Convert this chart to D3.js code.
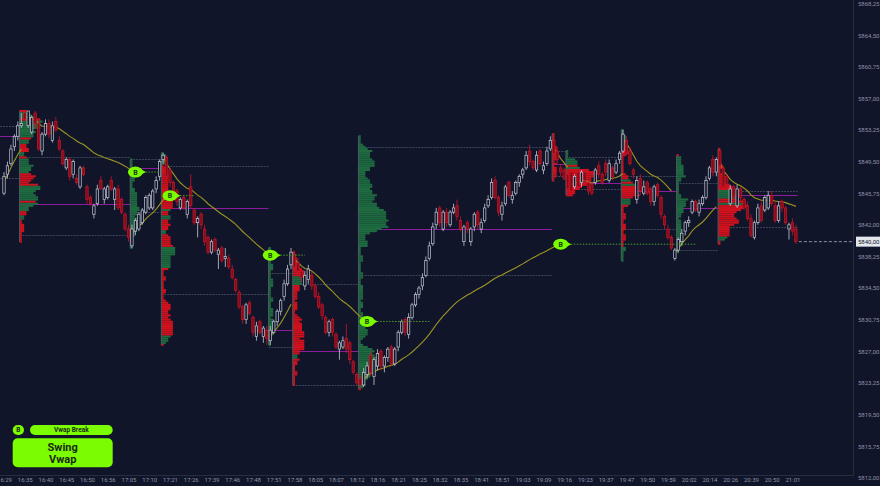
<!DOCTYPE html>
<html>
<head>
<meta charset="utf-8">
<script src="https://cdn.jsdelivr.net/npm/d3@7"></script>
<style>
    html, body { margin: 0; padding: 0; background: #10152a; }
    svg { display: block; }
    text { font-family: Roboto, "DejaVu Sans", sans-serif; }
</style>
</head>
<body>
<script>
const timeLabels = ["16:29", "16:35", "16:40", "16:45", "16:50", "16:56", "17:05", "17:10", "17:21", "17:26",
    "17:39", "17:46", "17:48", "17:51", "17:58", "18:05", "18:07", "18:12", "18:16", "18:21",
    "18:25", "18:32", "18:35", "18:41", "18:51", "19:03", "19:09", "19:16", "19:23", "19:37",
    "19:47", "19:50", "19:59", "20:02", "20:14", "20:26", "20:39", "20:50", "21:01"]

const opens = [
    5845.75, 5848.00, 5849.25, 5851.25, 5852.50, 5853.75, 5855.25, 5853.75, 5853.00, 5855.25,
    5854.00, 5850.75, 5852.75, 5854.00, 5852.00, 5854.25, 5852.00, 5850.75, 5848.75, 5849.75,
    5848.00, 5847.50, 5846.50, 5848.75, 5846.50, 5845.25, 5843.25, 5844.50, 5847.25, 5845.00,
    5845.25, 5847.25, 5845.00, 5846.25, 5845.00, 5843.25, 5841.50, 5839.50, 5841.25, 5841.50,
    5842.25, 5843.50, 5844.00, 5844.00, 5846.25, 5847.75, 5849.75, 5850.00, 5848.50, 5847.00,
    5846.00, 5844.00, 5845.25, 5843.25, 5846.50, 5843.75, 5842.25, 5843.25, 5841.50, 5840.50,
    5838.75, 5840.25, 5838.50, 5839.25, 5838.00, 5838.00, 5836.75, 5835.50, 5834.00, 5832.25,
    5830.75, 5832.75, 5831.00, 5828.75, 5830.50, 5828.75, 5829.50, 5828.25, 5829.25, 5830.50,
    5831.75, 5833.50, 5835.00, 5837.25, 5838.50, 5837.50, 5836.50, 5834.75, 5835.50, 5836.00,
    5834.75, 5833.50, 5832.50, 5831.00, 5829.25, 5830.75, 5829.00, 5827.25, 5827.50, 5828.50,
    5828.00, 5825.75, 5824.25, 5823.75, 5823.00, 5824.25, 5826.50, 5824.00, 5825.25, 5827.00,
    5825.25, 5826.25, 5827.50, 5825.50, 5827.50, 5829.25, 5830.75, 5829.00, 5831.00, 5832.50,
    5833.75, 5834.75, 5836.00, 5838.00, 5839.75, 5842.00, 5844.00, 5841.50, 5843.50, 5842.00,
    5843.50, 5844.25, 5842.50, 5840.00, 5842.25, 5840.00, 5841.75, 5843.50, 5841.50, 5842.50,
    5844.25, 5845.25, 5847.25, 5845.25, 5843.25, 5844.50, 5847.00, 5845.00, 5845.75, 5847.00,
    5848.00, 5848.75, 5850.75, 5849.50, 5848.50, 5850.75, 5848.50, 5849.25, 5851.00, 5852.00,
    5850.75, 5848.75, 5848.50, 5848.00, 5848.25, 5846.50, 5848.25, 5847.00, 5848.25, 5847.00,
    5846.75, 5847.00, 5849.00, 5848.00, 5849.25, 5847.25, 5848.75, 5848.25, 5849.75, 5850.75,
    5852.00, 5850.75, 5848.50, 5845.00, 5847.50, 5845.75, 5847.00, 5846.25, 5844.75, 5846.75,
    5845.25, 5843.00, 5841.50, 5840.50, 5838.00, 5839.00, 5840.00, 5841.25, 5842.25, 5843.50,
    5844.75, 5843.50, 5844.50, 5845.25, 5847.50, 5849.75, 5848.25, 5850.75, 5848.75, 5847.75,
    5844.50, 5846.50, 5844.25, 5846.25, 5845.00, 5844.25, 5842.75, 5840.50, 5842.25, 5844.25,
    5843.75, 5844.00, 5845.50, 5844.25, 5842.50, 5844.75, 5844.00, 5841.50, 5842.25, 5841.50]

const highs = [
    5848.25, 5849.50, 5851.50, 5852.75, 5854.25, 5855.25, 5855.50, 5855.50, 5855.00, 5855.50,
    5854.50, 5853.00, 5854.50, 5854.50, 5854.25, 5854.75, 5852.50, 5851.00, 5850.00, 5850.00,
    5849.75, 5848.00, 5849.00, 5849.00, 5846.75, 5845.50, 5844.50, 5846.75, 5847.75, 5846.50,
    5846.75, 5847.75, 5846.50, 5846.75, 5845.25, 5843.50, 5842.00, 5842.00, 5842.75, 5843.50,
    5844.00, 5845.50, 5845.75, 5846.25, 5847.75, 5849.75, 5850.50, 5850.25, 5848.75, 5847.25,
    5846.25, 5845.25, 5845.50, 5845.00, 5848.00, 5844.00, 5843.00, 5843.50, 5842.00, 5840.75,
    5840.25, 5840.50, 5839.25, 5839.50, 5839.25, 5838.50, 5837.25, 5835.75, 5834.25, 5832.50,
    5832.75, 5833.00, 5831.25, 5830.50, 5830.75, 5830.00, 5830.00, 5830.00, 5830.75, 5832.00,
    5833.25, 5835.50, 5837.25, 5839.25, 5838.75, 5838.00, 5836.75, 5836.50, 5837.25, 5836.50,
    5835.00, 5834.00, 5832.75, 5831.25, 5830.75, 5831.00, 5829.25, 5828.25, 5828.75, 5830.25,
    5828.25, 5826.00, 5824.50, 5824.25, 5825.00, 5825.75, 5827.00, 5826.25, 5827.25, 5827.25,
    5826.50, 5827.50, 5827.75, 5827.50, 5829.50, 5830.75, 5831.00, 5831.50, 5832.75, 5834.00,
    5834.75, 5836.25, 5838.25, 5840.00, 5842.25, 5844.00, 5844.25, 5843.75, 5844.00, 5843.75,
    5844.50, 5845.00, 5843.00, 5842.00, 5842.50, 5841.75, 5843.50, 5843.75, 5842.75, 5844.50,
    5845.50, 5847.50, 5847.75, 5845.50, 5844.75, 5846.75, 5847.25, 5846.00, 5847.25, 5848.00,
    5848.75, 5850.75, 5851.50, 5849.75, 5850.75, 5851.00, 5849.50, 5851.25, 5852.50, 5852.75,
    5851.25, 5849.25, 5848.75, 5848.25, 5848.50, 5848.00, 5848.50, 5848.50, 5848.50, 5847.25,
    5847.00, 5848.75, 5849.50, 5848.25, 5849.75, 5849.75, 5849.00, 5849.75, 5850.75, 5853.25,
    5852.50, 5851.25, 5848.75, 5847.75, 5848.00, 5847.25, 5847.25, 5846.50, 5846.75, 5847.00,
    5845.50, 5843.25, 5842.00, 5840.75, 5839.25, 5840.50, 5841.50, 5842.50, 5843.00, 5845.00,
    5845.00, 5845.00, 5845.50, 5847.75, 5849.00, 5850.25, 5850.00, 5851.00, 5849.00, 5848.00,
    5846.75, 5846.75, 5846.75, 5846.50, 5845.25, 5844.75, 5843.25, 5842.50, 5844.50, 5844.75,
    5845.50, 5846.00, 5846.00, 5844.75, 5844.75, 5845.00, 5844.25, 5842.25, 5842.75, 5842.00]

const lows = [
    5845.50, 5847.50, 5849.00, 5850.75, 5852.00, 5853.50, 5854.25, 5853.50, 5852.75, 5853.50,
    5850.75, 5850.25, 5852.50, 5852.25, 5851.75, 5853.00, 5850.75, 5849.00, 5848.50, 5847.25,
    5847.50, 5846.75, 5846.25, 5847.75, 5844.50, 5844.25, 5842.75, 5844.25, 5846.25, 5844.50,
    5845.00, 5846.00, 5843.75, 5843.75, 5843.25, 5841.25, 5840.00, 5839.25, 5840.75, 5841.25,
    5842.00, 5843.25, 5843.75, 5843.75, 5845.75, 5847.25, 5849.25, 5847.50, 5846.50, 5845.50,
    5844.25, 5843.75, 5843.75, 5842.75, 5844.00, 5842.00, 5840.50, 5841.50, 5839.50, 5838.50,
    5838.50, 5838.75, 5836.75, 5837.50, 5837.00, 5836.75, 5835.50, 5834.00, 5832.00, 5830.25,
    5830.25, 5831.25, 5828.75, 5828.25, 5829.00, 5828.00, 5827.75, 5827.75, 5829.00, 5830.00,
    5831.25, 5833.00, 5834.75, 5836.75, 5836.75, 5836.00, 5835.25, 5834.25, 5835.00, 5834.25,
    5833.25, 5832.00, 5830.75, 5829.00, 5828.75, 5828.75, 5827.25, 5826.00, 5827.25, 5826.75,
    5825.50, 5824.25, 5823.00, 5822.50, 5822.75, 5823.75, 5824.00, 5823.00, 5824.75, 5824.75,
    5824.50, 5825.75, 5825.25, 5825.25, 5827.00, 5829.00, 5828.75, 5828.50, 5830.75, 5832.25,
    5833.25, 5834.25, 5835.75, 5837.75, 5839.50, 5841.50, 5841.75, 5841.25, 5841.75, 5841.75,
    5843.25, 5842.50, 5841.25, 5839.50, 5841.00, 5839.50, 5841.25, 5841.50, 5841.00, 5842.25,
    5844.00, 5845.00, 5845.00, 5843.00, 5842.50, 5844.25, 5845.25, 5844.50, 5845.50, 5846.50,
    5847.50, 5848.50, 5849.00, 5848.50, 5848.25, 5849.00, 5848.00, 5849.00, 5850.75, 5849.75,
    5849.25, 5847.75, 5847.25, 5845.75, 5845.50, 5846.25, 5846.25, 5846.50, 5847.00, 5845.50,
    5845.50, 5846.75, 5847.50, 5846.75, 5847.75, 5847.00, 5847.25, 5848.00, 5849.25, 5850.50,
    5850.25, 5849.00, 5847.50, 5844.50, 5845.50, 5845.50, 5845.50, 5844.25, 5844.25, 5845.25,
    5842.75, 5841.50, 5840.25, 5839.00, 5837.75, 5838.75, 5839.50, 5840.75, 5841.75, 5843.25,
    5843.50, 5843.00, 5844.25, 5845.00, 5847.25, 5847.75, 5847.75, 5848.75, 5846.25, 5846.25,
    5844.25, 5845.00, 5844.00, 5844.75, 5843.75, 5842.50, 5840.50, 5840.25, 5842.00, 5842.25,
    5843.50, 5843.75, 5844.25, 5842.25, 5842.25, 5843.50, 5842.00, 5840.25, 5840.75, 5839.75]

const closes = [
    5847.75, 5849.00, 5851.00, 5852.50, 5853.75, 5854.00, 5854.50, 5855.50, 5854.75, 5854.00,
    5851.00, 5852.75, 5854.00, 5852.75, 5853.75, 5853.25, 5851.00, 5849.25, 5849.75, 5847.75,
    5849.50, 5847.00, 5848.75, 5848.00, 5845.00, 5844.50, 5844.25, 5846.25, 5846.25, 5846.25,
    5846.50, 5846.25, 5846.25, 5844.00, 5843.50, 5841.50, 5840.50, 5841.50, 5842.50, 5843.25,
    5843.75, 5845.25, 5845.50, 5846.00, 5847.25, 5849.50, 5850.25, 5847.75, 5847.00, 5846.00,
    5844.75, 5845.00, 5844.00, 5844.75, 5844.25, 5842.25, 5842.75, 5842.00, 5840.00, 5838.75,
    5840.00, 5839.00, 5839.00, 5837.75, 5838.25, 5837.00, 5835.75, 5834.25, 5832.25, 5830.75,
    5832.50, 5831.50, 5829.25, 5830.00, 5829.25, 5829.75, 5828.50, 5829.50, 5830.50, 5831.75,
    5833.00, 5835.00, 5836.75, 5838.75, 5837.00, 5836.50, 5835.75, 5836.00, 5836.75, 5834.75,
    5833.50, 5832.25, 5831.25, 5829.25, 5830.50, 5829.25, 5827.50, 5828.00, 5828.25, 5827.25,
    5826.00, 5824.50, 5823.25, 5823.00, 5824.50, 5825.25, 5824.50, 5826.00, 5826.75, 5825.25,
    5826.25, 5827.25, 5825.50, 5827.25, 5829.25, 5830.50, 5829.25, 5831.00, 5832.50, 5833.75,
    5834.50, 5835.75, 5837.75, 5839.50, 5841.75, 5843.50, 5842.25, 5843.50, 5842.25, 5843.50,
    5844.00, 5843.00, 5841.50, 5841.75, 5841.50, 5841.50, 5843.25, 5842.00, 5842.25, 5844.00,
    5845.00, 5847.00, 5845.25, 5843.50, 5844.25, 5846.50, 5845.50, 5845.50, 5847.00, 5847.75,
    5848.50, 5850.25, 5849.50, 5848.75, 5850.25, 5849.25, 5849.00, 5850.75, 5852.00, 5850.50,
    5849.75, 5848.25, 5847.50, 5846.25, 5846.00, 5847.75, 5846.50, 5848.25, 5847.25, 5846.00,
    5845.75, 5848.50, 5848.00, 5847.00, 5848.25, 5849.25, 5847.75, 5849.25, 5850.50, 5852.75,
    5850.50, 5849.25, 5848.00, 5847.25, 5846.00, 5846.50, 5845.75, 5844.75, 5846.50, 5845.50,
    5843.25, 5842.00, 5840.50, 5839.25, 5839.00, 5840.25, 5841.00, 5842.25, 5842.50, 5844.75,
    5843.75, 5844.50, 5845.25, 5847.25, 5848.75, 5848.25, 5849.75, 5849.00, 5846.50, 5846.75,
    5846.25, 5845.25, 5846.25, 5845.25, 5844.00, 5842.75, 5840.75, 5842.25, 5844.00, 5842.50,
    5845.25, 5845.50, 5844.50, 5842.50, 5844.25, 5844.00, 5842.25, 5842.00, 5841.25, 5840.00]

// swing sessions: first bar, value area high, point of control, value area low
const sessionStart = [-1, 5, 37, 46, 77, 84, 103, 159, 163, 179, 195, 207]
const sessionVah = [5853.75, 5850.00, 5849.75, 5849.00, 5836.25, 5835.00, 5851.25, 5850.75, 5850.00, 5847.75, 5847.00, 5846.00]
const sessionPoc = [5852.50, 5844.50, 5848.75, 5844.00, 5829.50, 5827.00, 5841.50, 5849.25, 5847.00, 5846.00, 5844.00, 5845.50]
const sessionVal = [5847.50, 5840.75, 5843.50, 5833.75, 5827.50, 5823.00, 5836.00, 5847.75, 5846.25, 5841.50, 5839.00, 5841.75]

// swing vwap anchors
const vwapFrom = [0, 6, 37, 46, 76, 83, 103, 159, 164, 179, 194, 207]
const vwapTo = [5, 38, 48, 77, 83, 105, 161, 163, 179, 193, 206, 229]
const breakSeg = [1, 2, 3, 5, 6]
const breakTo = [45, 55, 87, 123, 200]

const lastPrice = 5840.00

const W = 880, H = 486
const N = closes.length
const BG = "#10152a"
const LIME = "#7cfc00"

const svg = d3.select("body").append("svg")
    .attr("width", W)
    .attr("height", H)

svg.append("rect").attr("width", W).attr("height", H).attr("fill", BG)

svg.append("defs").append("clipPath").attr("id", "plot")
    .append("rect").attr("width", 853).attr("height", 475)

const x = d3.scalePoint().domain(d3.range(N)).range([4, 795.9])
const step = x.step()
const y = d3.scaleLinear().domain([5812, 5868.25]).range([477.7, 3.5])

const plot = svg.append("g").attr("clip-path", "url(#plot)")

const edge = i => i < 0 ? 0 : x(i) - step / 2
const sessions = sessionStart.map((s, k) => {
    const last = k === sessionStart.length - 1
    return {
        s: s,
        e: last ? N - 1 : sessionStart[k + 1] - 1,
        x0: edge(s),
        x1: last ? x(N - 1) + step / 2 : edge(sessionStart[k + 1]),
        vah: sessionVah[k], poc: sessionPoc[k], val: sessionVal[k]
    }
})

// value area + poc lines
const levels = plot.append("g")
sessions.forEach(d => {
    [["vah", "#3c4759", "2,1"], ["val", "#3c4759", "2,1"], ["poc", "#8c1c9c", null]].forEach(([key, color, dash]) => {
        levels.append("line")
            .attr("x1", d.x0).attr("x2", d.x1)
            .attr("y1", Math.round(y(d[key])) + 0.5).attr("y2", Math.round(y(d[key])) + 0.5)
            .attr("stroke", color)
            .attr("stroke-dasharray", dash)
    })
})

// volume profiles (bars touching each price level)
const tick = 0.25
const profiles = sessions.filter(d => d.s >= 0).map(d => {
    const rows = new Map()
    for (let i = d.s; i <= d.e; i++) {
        const up = closes[i] >= opens[i]
        for (let p = lows[i]; p <= highs[i] + 1e-6; p += tick) {
            const key = p.toFixed(2)
            const r = rows.get(key) || { p: +key, up: 0, dn: 0 }
            if (up) r.up++
            else r.dn++
            rows.set(key, r)
        }
    }
    const hi = d3.max(d3.range(d.s, d.e + 1), i => highs[i])
    const lo = d3.min(d3.range(d.s, d.e + 1), i => lows[i])
    return { x0: d.x0, hi, lo, rows: Array.from(rows.values()) }
})
const maxCount = d3.max(profiles, pr => d3.max(pr.rows, r => r.up + r.dn))
const wScale = d3.scaleLinear().domain([0, maxCount]).range([0, 30])
const rowH = y(0) - y(tick)

profiles.forEach(pr => {
    const g = plot.append("g")
    g.selectAll("rect")
        .data(pr.rows)
        .enter()
        .append("rect")
            .attr("x", pr.x0)
            .attr("y", r => y(r.p) - rowH / 2)
            .attr("width", r => wScale(r.up + r.dn))
            .attr("height", rowH)
            .attr("fill", r => r.dn > r.up ? "#d0111e" : "#1e6b40")
    g.append("line")
        .attr("x1", pr.x0).attr("x2", pr.x0)
        .attr("y1", y(pr.hi)).attr("y2", y(pr.lo))
        .attr("stroke", "#4b5a5e")
})

// swing vwaps (equal weight, anchored)
const vwaps = vwapFrom.map((f, k) => {
    let sum = 0
    return d3.range(f, vwapTo[k] + 1).map((i, n) => {
        sum += (highs[i] + lows[i] + closes[i]) / 3
        return [i, sum / (n + 1)]
    })
})
plot.append("g")
    .selectAll("path")
    .data(vwaps)
    .enter()
    .append("path")
        .attr("d", d3.line().x(d => x(d[0])).y(d => y(d[1])))
        .attr("fill", "none")
        .attr("stroke", "#9d9522")
        .attr("stroke-width", 1.1)

// candles
const bodyW = 2.4
const candles = plot.append("g")
d3.range(N).forEach(i => {
    const up = closes[i] >= opens[i]
    const color = up ? "#c6cad6" : "#cf1428"
    candles.append("line")
        .attr("x1", x(i)).attr("x2", x(i))
        .attr("y1", y(highs[i])).attr("y2", y(lows[i]))
        .attr("stroke", color)
        .attr("stroke-width", 0.8)
    const top = y(Math.max(opens[i], closes[i]))
    const bot = y(Math.min(opens[i], closes[i]))
    candles.append("rect")
        .attr("x", x(i) - bodyW / 2)
        .attr("y", top)
        .attr("width", bodyW)
        .attr("height", Math.max(1, bot - top))
        .attr("fill", up ? BG : "#7e0e1a")
        .attr("stroke", color)
        .attr("stroke-width", 0.7)
})

// vwap break markers
breakSeg.forEach((s, k) => {
    const endPt = vwaps[s][vwaps[s].length - 1]
    const cx = x(endPt[0]), cy = y(endPt[1])
    plot.append("line")
        .attr("x1", cx + 10).attr("x2", x(breakTo[k]))
        .attr("y1", cy).attr("y2", cy)
        .attr("stroke", "#4f9a2c")
        .attr("stroke-dasharray", "1.5,1.5")
    const m = plot.append("g").attr("transform", `translate(${cx},${cy})`)
    m.append("polygon").attr("points", "4,-3.5 10.5,0 4,3.5").attr("fill", LIME)
    m.append("ellipse").attr("rx", 7.5).attr("ry", 5.5).attr("fill", LIME)
    m.append("text")
        .attr("text-anchor", "middle")
        .attr("dy", "0.35em")
        .attr("font-size", 7)
        .attr("font-weight", "bold")
        .attr("fill", "#173b0a")
        .text("B")
})

// last price line
plot.append("line")
    .attr("x1", x(N - 1) + 3).attr("x2", 852)
    .attr("y1", y(lastPrice)).attr("y2", y(lastPrice))
    .attr("stroke", "#8a90a0")
    .attr("stroke-dasharray", "3,2")

// axes
svg.append("line")
    .attr("x1", 853.5).attr("x2", 853.5).attr("y1", 0).attr("y2", 475)
    .attr("stroke", "#272e40")
svg.append("line")
    .attr("x1", 0).attr("x2", 853.5).attr("y1", 475.5).attr("y2", 475.5)
    .attr("stroke", "#272e40")

const yAxis = svg.append("g")
    .attr("transform", "translate(855,0)")
    .call(d3.axisRight(y)
        .tickValues(d3.range(5812, 5868.3, 3.75))
        .tickSize(0)
        .tickPadding(3)
        .tickFormat(d => d.toFixed(2).replace(".", ",")))
yAxis.select(".domain").remove()
yAxis.selectAll("text").attr("fill", "#8c93a6").attr("font-size", 6).attr("font-family", "Roboto")

const xAxis = svg.append("g")
    .attr("transform", "translate(0,476)")
    .call(d3.axisBottom(x)
        .tickValues(d3.range(0, N, 6))
        .tickSize(0)
        .tickPadding(2)
        .tickFormat((d, i) => timeLabels[i]))
xAxis.select(".domain").remove()
xAxis.selectAll("text").attr("fill", "#8c93a6").attr("font-size", 6).attr("font-family", "Roboto")

// current price box
svg.append("rect")
    .attr("x", 856).attr("y", y(lastPrice) - 5)
    .attr("width", 24).attr("height", 10)
    .attr("fill", "#e4e7ee")
svg.append("text")
    .attr("x", 858).attr("y", y(lastPrice))
    .attr("dy", "0.35em")
    .attr("font-size", 6)
    .attr("fill", "#141a2c")
    .text(lastPrice.toFixed(2).replace(".", ","))

// legend
const legend = svg.append("g")
legend.append("rect").attr("x", 12.7).attr("y", 425).attr("width", 11.3).attr("height", 10).attr("rx", 5).attr("fill", LIME)
legend.append("text").attr("x", 18.4).attr("y", 430).attr("dy", "0.35em").attr("text-anchor", "middle")
    .attr("font-size", 6.5).attr("font-weight", "bold").attr("fill", "#1a2a12").text("B")
legend.append("rect").attr("x", 30).attr("y", 425).attr("width", 82.7).attr("height", 10).attr("rx", 5).attr("fill", LIME)
legend.append("text").attr("x", 71.3).attr("y", 430).attr("dy", "0.35em").attr("text-anchor", "middle")
    .attr("font-size", 6.5).attr("font-weight", "bold").attr("fill", "#1a2a12").text("Vwap Break")
legend.append("rect").attr("x", 12.7).attr("y", 438.3).attr("width", 100).attr("height", 29).attr("rx", 5).attr("fill", LIME)
legend.append("text").attr("x", 62.7).attr("y", 447.5).attr("dy", "0.35em").attr("text-anchor", "middle")
    .attr("font-size", 11).attr("font-weight", "bold").attr("fill", "#1a2a12").text("Swing")
legend.append("text").attr("x", 62.7).attr("y", 459).attr("dy", "0.35em").attr("text-anchor", "middle")
    .attr("font-size", 11).attr("font-weight", "bold").attr("fill", "#1a2a12").text("Vwap")
</script>
</body>
</html>
